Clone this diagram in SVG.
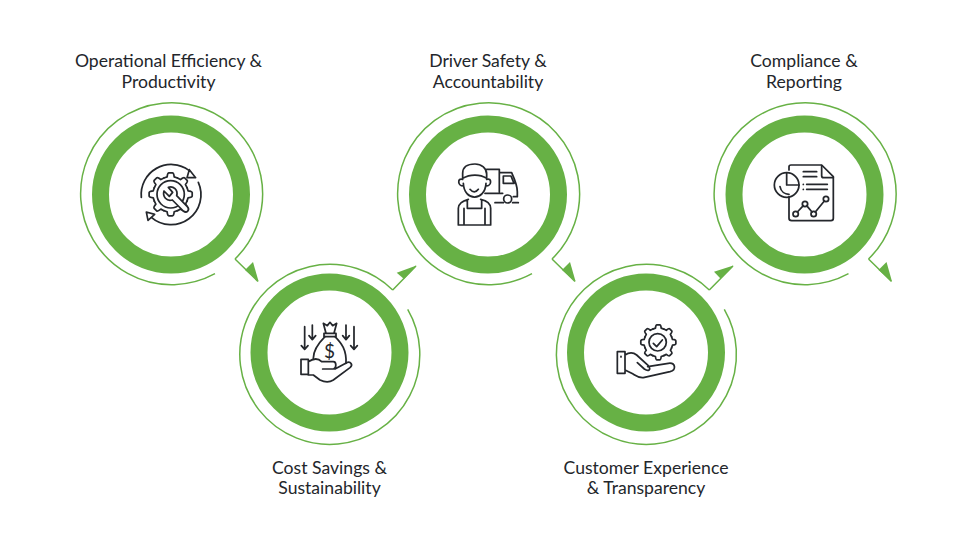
<svg xmlns="http://www.w3.org/2000/svg" width="977" height="550" viewBox="0 0 977 550">
<style>
.band{fill:none;stroke:#67b145;stroke-width:17}
.thin{fill:none;stroke:#67b145;stroke-width:1.5}
.head{fill:#67b145;stroke:none}
.label{font-family:Lato,"Liberation Sans",sans-serif;font-size:17.6px;fill:#23262b;text-anchor:middle}
.ico{fill:none;stroke:#24272c;stroke-width:5.2;stroke-linecap:round;stroke-linejoin:round}
.ico .w{fill:#fff}
.ico .tri{fill:#fff;stroke-width:5}
</style>
<defs>
<path id="t" d="M-6.9,-16.6 L-3.6,-17.7 Q-3.2,-21.9 -1.8,-21.9 H1.8 Q3.2,-21.9 3.6,-17.7 L6.9,-16.6"/>
<g id="gear">
<use href="#t"/><use href="#t" transform="rotate(45)"/><use href="#t" transform="rotate(90)"/><use href="#t" transform="rotate(135)"/><use href="#t" transform="rotate(180)"/><use href="#t" transform="rotate(225)"/><use href="#t" transform="rotate(270)"/><use href="#t" transform="rotate(315)"/>
</g>
</defs>
<rect width="977" height="550" fill="#fff"/>

<g id="connectors">
<path class="thin" d="M235,259 A91,91 0 1 0 215,273.7 M235,259 L258,281.5"/>
<path class="head" d="M258.6,281.5 L253,262 L245,270Z"/>
<path class="thin" d="M392.7,290 A90,90 0 1 0 407.7,309.3 M392.7,290 L416,266"/>
<path class="head" d="M416.5,265.5 L396.7,272.7 L404,279Z"/>
<path class="thin" d="M552,259 A91,91 0 1 0 532,273.7 M552,259 L575,281.5"/>
<path class="head" d="M575.6,281.5 L570,262 L562,270Z"/>
<path class="thin" d="M709.3,290 A90,90 0 1 0 724.3,309.3 M709.3,290 L733,266"/>
<path class="head" d="M733.5,265.5 L714,271.7 L720.5,278.5Z"/>
<path class="thin" d="M868.5,259 A91,91 0 1 0 848.5,273.7 M868.5,259 L891.5,281.5"/>
<path class="head" d="M892,281.5 L886.5,262 L878.5,270Z"/>
</g>

<g id="node-1">
<circle class="band" cx="171" cy="194.5" r="70.5"/>
<g class="ico" transform="translate(130 155) scale(.3333)">
<path d="M34,127 A90,90 0 0 1 177,46"/>
<path d="M205,82 A90,90 0 0 1 64,187"/>
<path class="tri" d="M178,44 L197,68 L171,68Z"/>
<path class="tri" d="M49,171 L54,196 L74,178Z"/>
<use href="#gear" transform="translate(122 118) scale(2.95)" style="stroke-width:1.76"/>
<circle cx="122" cy="118" r="41"/>
<path class="w" d="M102,108 C97,125 110,140 127,135 L160,168 C170,176 181,165 172,155 L140,122 C145,105 130,92 115,97 L128,112 L118,124Z"/>
</g>
<text class="label" x="168.5" y="67">Operational Efficiency &amp;</text>
<text class="label" x="168.5" y="88">Productivity</text>
</g>

<g id="node-2">
<circle class="band" cx="329.5" cy="352.5" r="70.5"/>
<g class="ico" transform="translate(290 315) scale(.3333)">
<path d="M44,35 V100 M34,92 L44,103 L54,92 M67,30 V72 M57,62 L67,74 L77,62 M168,30 V72 M158,62 L168,74 L178,62 M192,35 V100 M182,92 L192,103 L202,92"/>
<path d="M108,55 L100,25 L112,32 L120,22 L128,32 L140,25 L132,55 M102,55 H138 V65 H102Z"/>
<path d="M105,65 C85,85 70,105 70,130 M135,65 C155,85 170,105 168,145"/>
<path d="M33,133 H55 V178 H33Z M55,140 C70,130 85,130 95,140 H130 C140,140 140,160 130,162 H98 M135,162 L170,143 C182,138 190,150 180,158 L130,195 C115,205 100,200 90,195 L70,180 H55"/>
</g>
<text x="329.5" y="358" font-family="Lato,'Liberation Sans',sans-serif" font-size="19" fill="#24272c" text-anchor="middle">$</text>
<text class="label" x="329.5" y="474">Cost Savings &amp;</text>
<text class="label" x="329.5" y="494">Sustainability</text>
</g>

<g id="node-3">
<circle class="band" cx="488" cy="194.5" r="70.5"/>
<g class="ico" transform="translate(440 150) scale(.3333)">
<path d="M140,58 H178 V125 M178,68 H215 C225,90 232,105 232,125 V140 H220 M190,78 H213 L222,100 H190Z M135,130 H188 M165,158 H190 M218,158 H235"/>
<circle cx="203" cy="147" r="12"/>
<path class="w" d="M68,85 V70 C68,45 90,42 105,42 C125,42 140,55 140,72 V85 C120,72 90,72 68,85Z"/>
<path d="M68,88 C52,82 52,108 70,108 M140,88 C156,82 156,108 138,108 M70,100 C72,155 135,155 138,100 M90,118 C98,128 108,128 115,118"/>
<path d="M55,225 V175 C55,160 70,152 85,148 M122,148 C140,152 152,160 152,175 V225 H55 M82,150 V175 H125 V150 M72,175 V225 M135,175 V225"/>
</g>
<text class="label" x="488" y="67">Driver Safety &amp;</text>
<text class="label" x="488" y="88">Accountability</text>
</g>

<g id="node-4">
<circle class="band" cx="646" cy="352.5" r="70.5"/>
<g class="ico" transform="translate(605 315) scale(.3333)">
<use href="#gear" transform="translate(160 82) scale(2.4)" style="stroke-width:2.17"/>
<circle cx="158" cy="82" r="26"/>
<path d="M145,85 L155,95 L172,75"/>
<path d="M37,110 H60 V175 H37Z M48,124 V126 M60,120 C75,110 85,112 95,120 L130,152 C140,165 130,170 118,162 L97,143 M128,155 L190,145 C212,142 215,165 195,170 L115,188 C100,190 90,180 80,175 L60,165"/>
</g>
<text class="label" x="646" y="474">Customer Experience</text>
<text class="label" x="646" y="494">&amp; Transparency</text>
</g>

<g id="node-5">
<circle class="band" cx="804.5" cy="194.5" r="70.5"/>
<g class="ico" transform="translate(765 155) scale(.3333)">
<path d="M72,45 V35 Q72,30 78,30 H170 L205,65 V190 Q205,197 198,197 H80 Q72,197 72,190 V125"/>
<path d="M170,32 V62 Q170,68 176,68 H205 M115,50 H155 M115,65 H155 M125,88 H187 M125,103 H187 M115,88 V88.5 M115,103 V103.5"/>
<circle cx="65" cy="90" r="37"/>
<path d="M65,55 V90 H102 M45,95 C48,110 60,118 72,118"/>
<path d="M97,171 L115,152 M125,152 L141,171 M151,171 L178,138"/>
<circle cx="92" cy="177" r="8"/><circle cx="120" cy="147" r="8"/><circle cx="146" cy="177" r="8"/><circle cx="183" cy="132" r="8"/>
</g>
<text class="label" x="804" y="67">Compliance &amp;</text>
<text class="label" x="804" y="88">Reporting</text>
</g>
</svg>
